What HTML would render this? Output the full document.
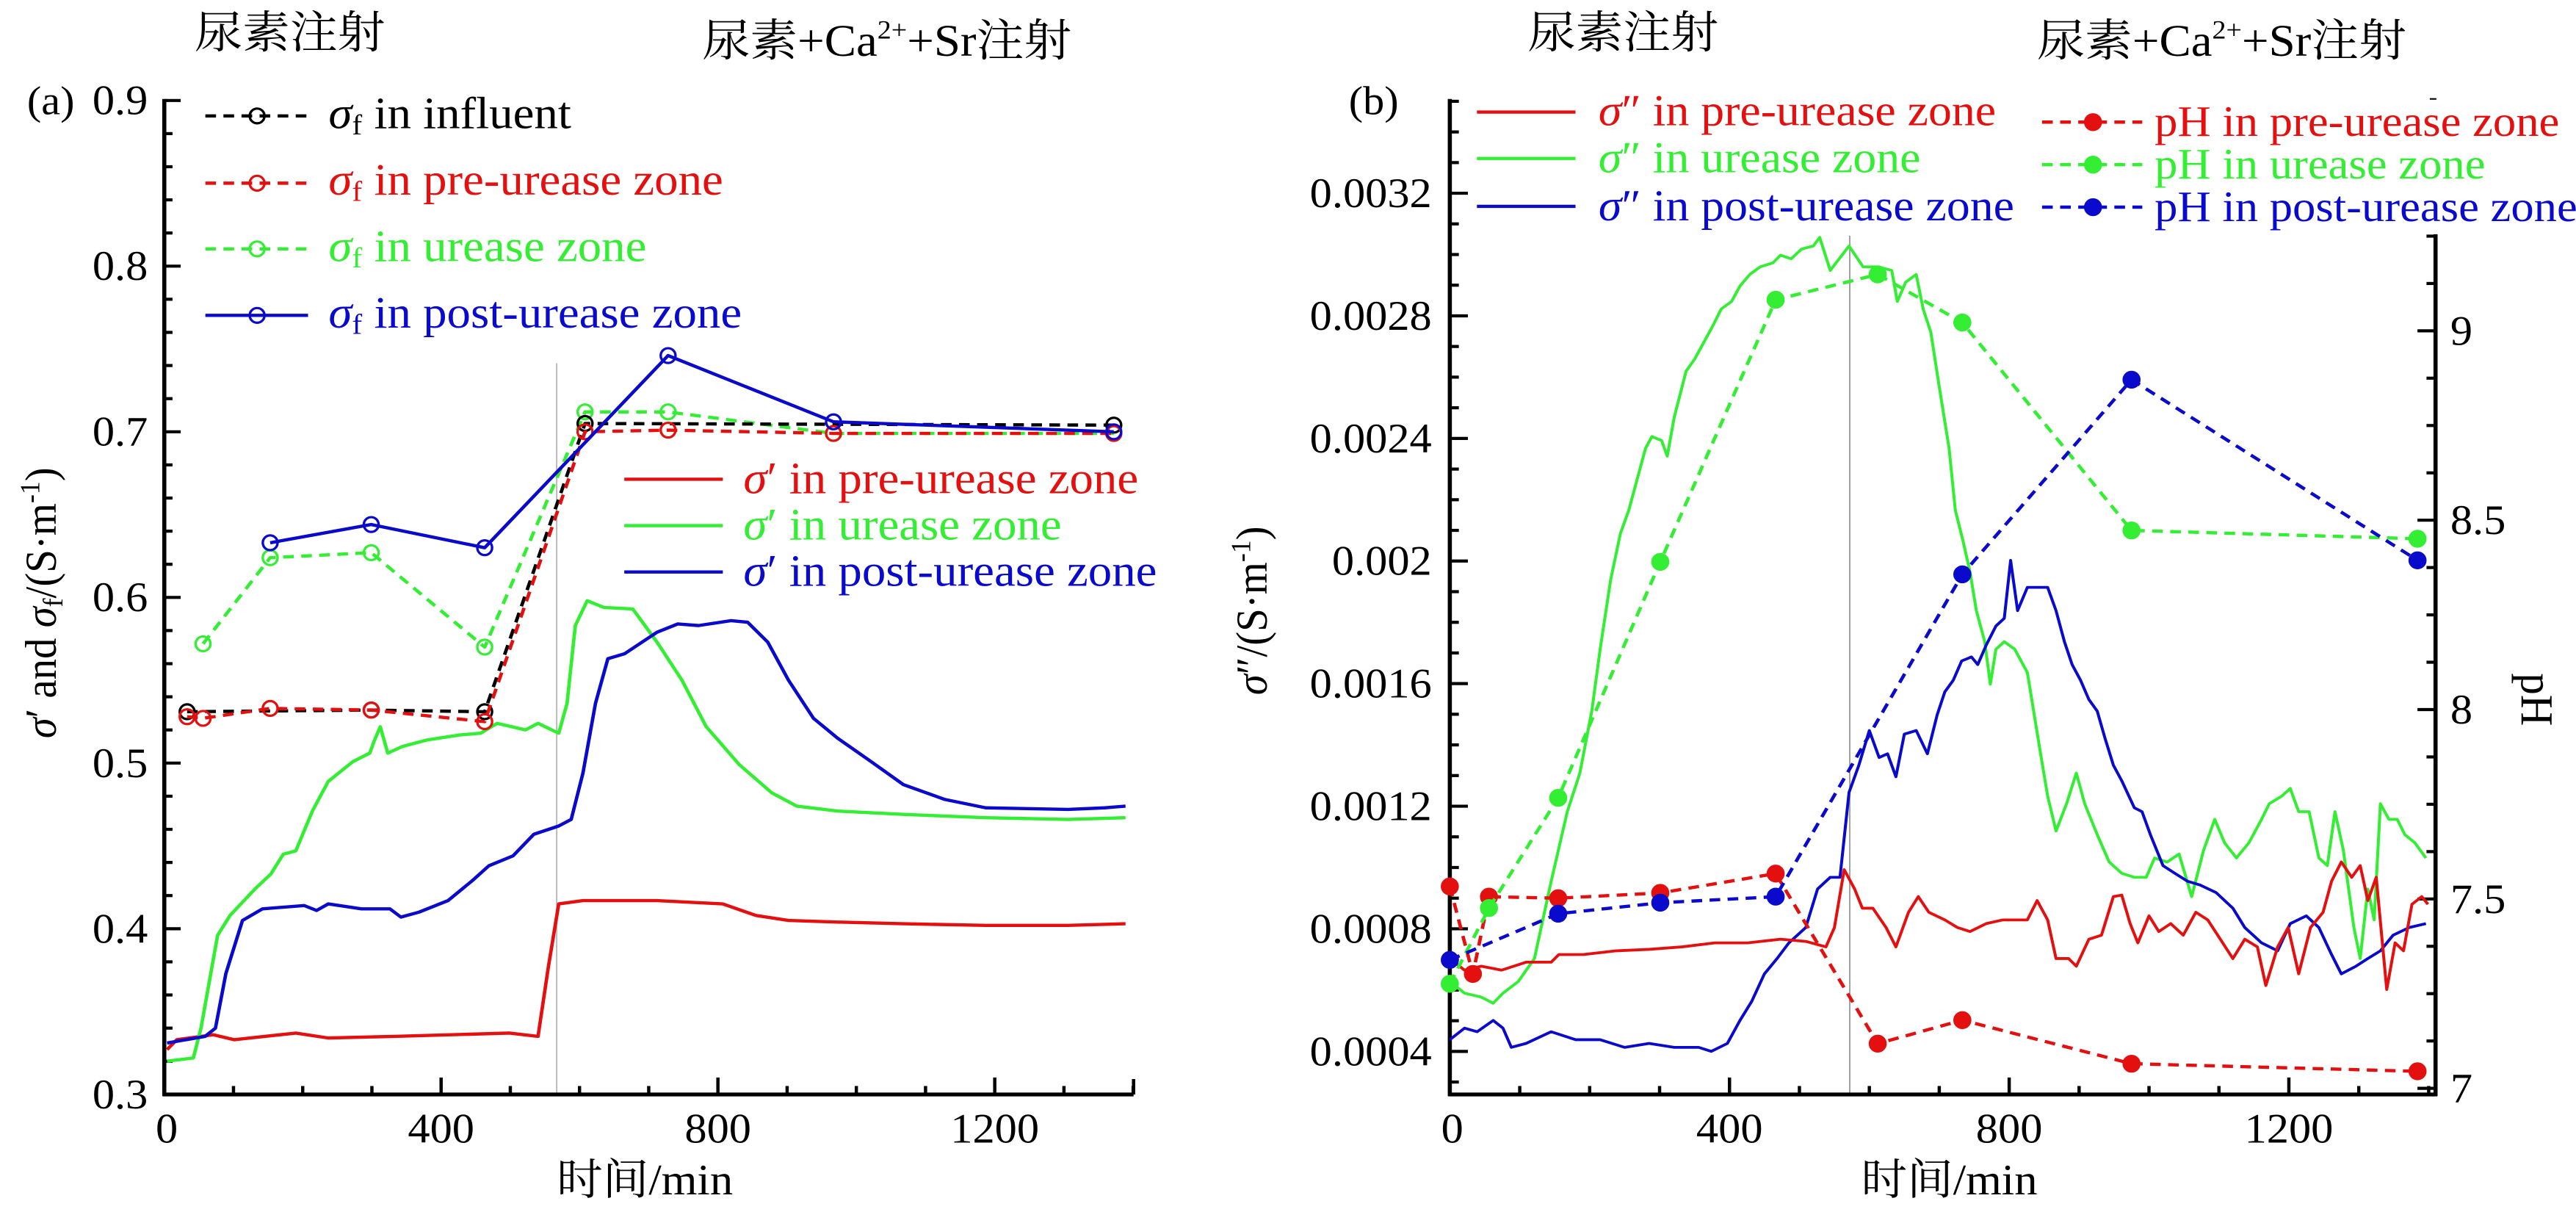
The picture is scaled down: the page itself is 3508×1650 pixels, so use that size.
<!DOCTYPE html>
<html><head><meta charset="utf-8"><style>
html,body{margin:0;padding:0;background:#fff;}
svg{display:block;font-family:"Liberation Serif","Noto Serif CJK SC","Noto Sans CJK SC",serif;}
</style></head><body>
<svg id="chart" width="3508" height="1650" viewBox="0 0 3136 1568" preserveAspectRatio="none" xmlns="http://www.w3.org/2000/svg">
<rect x="0" y="0" width="3136" height="1568" fill="#fff"/>
<g id="pa"></g>
<g id="pb"></g>
<text x="237" y="62" font-size="58">尿素注射</text>
<text x="855" y="72" font-size="58">尿素+Ca<tspan font-size="34" dy="-22">2+</tspan><tspan dy="22">+Sr注射</tspan></text>
<text x="33" y="148" font-size="52">(a)</text>
<text x="785" y="1545" font-size="56" text-anchor="middle">时间/min</text>
<text transform="translate(68,780) rotate(-90)" font-size="54" text-anchor="middle"><tspan font-style="italic">σ</tspan>′ and <tspan font-style="italic">σ</tspan><tspan font-size="34" dy="8">f</tspan><tspan dy="-8">/(S·m</tspan><tspan font-size="34" dy="-20">-1</tspan><tspan dy="20">)</tspan></text>
<g font-size="58">
<text x="400" y="166" fill="#000"><tspan font-style="italic">σ</tspan><tspan font-size="37" dy="8">f</tspan><tspan dy="-8"> in influent</tspan></text>
<text x="400" y="252" fill="#e41010"><tspan font-style="italic">σ</tspan><tspan font-size="37" dy="8">f</tspan><tspan dy="-8"> in pre-urease zone</tspan></text>
<text x="400" y="338" fill="#33ee33"><tspan font-style="italic">σ</tspan><tspan font-size="37" dy="8">f</tspan><tspan dy="-8"> in urease zone</tspan></text>
<text x="400" y="424" fill="#0a0acc"><tspan font-style="italic">σ</tspan><tspan font-size="37" dy="8">f</tspan><tspan dy="-8"> in post-urease zone</tspan></text>
</g>
<g font-size="58">
<text x="905" y="638" fill="#e41010"><tspan font-style="italic">σ</tspan>′ in pre-urease zone</text>
<text x="905" y="698" fill="#33ee33"><tspan font-style="italic">σ</tspan>′ in urease zone</text>
<text x="905" y="758" fill="#0a0acc"><tspan font-style="italic">σ</tspan>′ in post-urease zone</text>
</g>
<text x="1860" y="62" font-size="58">尿素注射</text>
<text x="2480" y="72" font-size="58">尿素+Ca<tspan font-size="34" dy="-22">2+</tspan><tspan dy="22">+Sr注射</tspan></text>
<text x="1642" y="148" font-size="52">(b)</text>
<text x="2373" y="1545" font-size="56" text-anchor="middle">时间/min</text>
<text transform="translate(1542,790) rotate(-90)" font-size="54" text-anchor="middle"><tspan font-style="italic">σ</tspan>″/(S·m<tspan font-size="34" dy="-20">-1</tspan><tspan dy="20">)</tspan></text>
<text transform="translate(3070,905) rotate(90)" font-size="56" text-anchor="middle">pH</text>
<g font-size="57">
<text x="1946" y="162" fill="#e41010"><tspan font-style="italic">σ</tspan>″ in pre-urease zone</text>
<text x="1946" y="223" fill="#33ee33"><tspan font-style="italic">σ</tspan>″ in urease zone</text>
<text x="1946" y="285" fill="#0a0acc"><tspan font-style="italic">σ</tspan>″ in post-urease zone</text>
</g>
<g font-size="56">
<text x="2623" y="176" fill="#e41010">pH in pre-urease zone</text>
<text x="2623" y="231" fill="#33ee33">pH in urease zone</text>
<text x="2623" y="286" fill="#0a0acc">pH in post-urease zone</text>
</g>
</svg>
<script>
// ---------- Panel (a) data ----------
const aXTicks = [0, 400, 800, 1200];
const aYTicks = [0.3, 0.4, 0.5, 0.6, 0.7, 0.8, 0.9];
const sfInfT = [33, 299, 463, 608, 1372];
const sfInfV = [0.531, 0.532, 0.531, 0.705, 0.704];
const sfPreT = [33, 56, 153, 299, 463, 608, 728, 967, 1372];
const sfPreV = [0.528, 0.527, 0.533, 0.532, 0.525, 0.700, 0.701, 0.699, 0.699];
const sfUreT = [56, 153, 299, 463, 608, 728, 967, 1372];
const sfUreV = [0.572, 0.624, 0.627, 0.570, 0.712, 0.712, 0.699, 0.699];
const sfPostT = [153, 299, 463, 728, 967, 1372];
const sfPostV = [0.633, 0.644, 0.630, 0.746, 0.706, 0.700];
const spPreT = [4,18,71,101,190,237,332,415,499,540,555,570,605,712,807,855,902,973,1068,1187,1306,1389];
const spPreV = [0.327,0.333,0.336,0.333,0.337,0.334,0.335,0.336,0.337,0.335,0.377,0.415,0.417,0.417,0.415,0.408,0.405,0.404,0.403,0.402,0.402,0.403];
const spUreT = [4,42,53,77,95,131,154,172,190,214,237,273,297,303,312,323,344,380,427,457,481,522,540,570,582,594,611,635,677,712,748,783,831,878,914,973,1068,1187,1306,1389];
const spUreV = [0.320,0.322,0.340,0.396,0.408,0.424,0.433,0.445,0.447,0.471,0.489,0.501,0.506,0.513,0.522,0.506,0.510,0.514,0.517,0.518,0.524,0.520,0.524,0.518,0.536,0.583,0.598,0.594,0.593,0.573,0.550,0.522,0.499,0.482,0.474,0.471,0.469,0.467,0.466,0.467];
const spPostT = [4,59,74,89,113,142,202,220,237,285,326,342,368,410,445,469,504,534,570,588,605,623,641,665,712,742,772,819,843,872,902,938,973,1021,1068,1128,1187,1306,1359,1389];
const spPostV = [0.331,0.335,0.340,0.373,0.405,0.412,0.414,0.411,0.415,0.412,0.412,0.407,0.410,0.417,0.429,0.438,0.444,0.457,0.462,0.466,0.494,0.536,0.563,0.566,0.579,0.584,0.583,0.586,0.585,0.573,0.550,0.527,0.515,0.501,0.487,0.478,0.473,0.472,0.473,0.474];

// ---------- Panel (b) data ----------
const bXTicks = [0, 400, 800, 1200];
const bYTicksLeft = ['0.0004','0.0008','0.0012','0.0016','0.002','0.0024','0.0028','0.0032'];
const bYTicksRight = ['7','7.5','8','8.5','9'];
const phT = [0, 56, 155, 301, 466, 612, 733, 975, 1384];
const phPreT = [0, 33, 56, 155, 301, 466, 612, 733, 975, 1384];
const phPre = [7.533, 7.302, 7.506, 7.502, 7.516, 7.567, 7.118, 7.180, 7.065, 7.045];
const phUre = [7.276, 7.476, 7.767, 8.390, 9.082, 9.149, 9.022, 8.473, 8.451];
const phPostT = [0, 155, 301, 466, 733, 975, 1384];
const phPost = [7.339, 7.461, 7.490, 7.506, 8.357, 8.871, 8.394];
// sigma'' values in units of 1e-4 S/m
const sddPreT = [0,21,45,74,109,145,156,191,238,285,332,379,426,473,509,538,550,564,579,590,605,624,638,656,670,685,708,726,744,767,791,826,840,855,867,885,896,914,932,949,961,973,984,1000,1014,1031,1049,1067,1084,1102,1120,1137,1155,1167,1184,1199,1214,1231,1249,1261,1275,1290,1302,1313,1325,1340,1352,1364,1376,1390,1399];
const sddPreV = [7.03,6.65,6.78,6.65,6.91,6.91,7.16,7.16,7.28,7.33,7.41,7.54,7.54,7.66,7.59,7.41,8.04,9.93,9.30,8.67,8.67,8.04,7.41,8.54,9.05,8.54,8.29,8.04,7.91,8.17,8.29,8.29,8.92,8.29,7.03,7.03,6.78,7.66,7.79,9.05,9.10,8.17,7.54,8.42,7.91,8.17,7.79,8.54,8.29,7.66,7.03,7.66,7.41,6.15,7.41,8.04,6.53,8.04,8.54,9.55,10.18,9.68,10.06,8.92,9.68,6.02,7.54,7.28,8.80,9.05,8.80];
const sddUreT = [0,21,45,62,76,98,121,145,168,186,203,215,230,244,256,268,280,289,303,311,321,338,350,365,377,388,403,415,429,444,462,473,488,503,520,529,544,571,591,612,632,640,652,667,677,688,700,714,723,734,744,753,765,773,781,793,800,808,826,844,855,867,882,896,908,926,943,961,979,996,1008,1026,1043,1061,1078,1094,1108,1125,1143,1161,1172,1190,1202,1214,1229,1243,1255,1266,1278,1293,1302,1313,1322,1331,1343,1355,1366,1380,1396];
const sddUreV = [6.28,5.90,5.77,5.57,5.90,6.28,7.03,9.55,11.82,13.08,15.10,17.12,19.39,20.90,21.66,22.67,23.68,24.06,23.93,23.42,24.69,26.20,26.58,27.21,27.71,28.22,28.47,28.97,29.35,29.60,29.73,29.98,29.86,30.18,30.28,30.56,29.48,30.28,29.60,29.60,29.48,28.47,29.10,29.35,28.22,27.46,25.69,23.68,21.66,20.65,19.64,18.38,17.37,15.98,17.12,17.37,17.25,17.12,16.36,13.84,12.33,11.19,12.08,13.08,12.08,11.07,10.18,9.81,9.68,9.68,10.31,10.18,10.44,9.05,10.56,11.57,10.81,10.31,10.81,11.57,12.08,12.33,12.58,11.82,11.82,10.31,10.06,11.82,10.56,8.04,7.03,9.30,8.29,12.08,11.57,11.57,11.07,10.81,10.31];
const sddPostT = [0,21,39,62,76,88,109,145,180,215,250,285,321,356,374,397,415,432,450,468,485,509,526,544,558,571,585,600,614,626,638,650,667,683,697,708,720,732,746,755,767,781,793,802,812,826,840,855,867,879,890,902,914,926,937,949,961,979,990,1002,1020,1037,1055,1073,1096,1120,1137,1161,1184,1202,1225,1243,1261,1275,1296,1313,1331,1349,1372,1396];
const sddPostV = [4.38,4.76,4.64,5.01,4.76,4.13,4.26,4.64,4.38,4.38,4.13,4.26,4.13,4.13,4.00,4.26,5.01,5.64,6.53,7.03,7.54,8.04,9.30,9.68,9.68,12.45,13.34,14.47,13.59,13.71,12.96,14.35,14.47,13.71,14.98,15.73,16.11,16.74,16.87,16.62,17.25,17.88,18.13,20.02,18.38,19.14,19.14,19.14,18.38,17.37,16.62,16.11,15.48,15.10,14.22,13.34,12.83,11.95,11.82,11.07,10.06,9.81,9.55,9.43,9.18,8.67,8.04,7.54,7.28,8.17,8.42,8.04,7.16,6.53,6.78,7.03,7.28,7.79,8.04,8.17];

const RED = '#e41010', GREEN = '#33ee33', BLUE = '#0a0acc';
const LW = 4.2;
const NS = 'http://www.w3.org/2000/svg';
const pa = document.getElementById('pa');
const pb = document.getElementById('pb');
function mk(tag, parent) { const e = document.createElementNS(NS, tag); parent.appendChild(e); return e; }
function line(parent, x1, y1, x2, y2, stroke, w, dash) {
  const e = mk('line', parent);
  e.setAttribute('x1', x1); e.setAttribute('y1', y1); e.setAttribute('x2', x2); e.setAttribute('y2', y2);
  e.setAttribute('stroke', stroke); e.setAttribute('stroke-width', w);
  if (dash) e.setAttribute('stroke-dasharray', dash);
  return e;
}
function poly(parent, xs, ys, fx, fy, stroke, w, dash) {
  const e = mk('polyline', parent);
  e.setAttribute('points', xs.map((t, i) => fx(t).toFixed(1) + ',' + fy(ys[i]).toFixed(1)).join(' '));
  e.setAttribute('fill', 'none'); e.setAttribute('stroke', stroke); e.setAttribute('stroke-width', w);
  e.setAttribute('stroke-linejoin', 'round');
  if (dash) e.setAttribute('stroke-dasharray', dash);
  return e;
}
function circ(parent, cx, cy, r, stroke, fill) {
  const e = mk('ellipse', parent);
  e.setAttribute('cx', cx); e.setAttribute('cy', cy); e.setAttribute('rx', r); e.setAttribute('ry', r * 1.06);
  e.setAttribute('stroke', stroke); e.setAttribute('stroke-width', 3); e.setAttribute('fill', fill);
  return e;
}
function txt(parent, x, y, s, anchor, size) {
  const e = mk('text', parent);
  e.setAttribute('x', x); e.setAttribute('y', y); e.setAttribute('text-anchor', anchor);
  e.setAttribute('font-size', size); e.textContent = s;
  return e;
}

// ---------- Panel (a) ----------
const xA = t => 200 + t * 0.8425;
const yA = v => 130 + (0.9 - v) * 2143;
let g = line(pa, xA(567), 470, xA(567), 1416, '#b0b0b0', 1.5);


g = line(pa, 200, 128, 200, 1418, '#000', 5);


g = line(pa, 198, 1416, 1380, 1416, '#000', 5);


g = line(pa, 1380, 1416, 1380, 1396, '#000', 4);
for (let v = 0.3; v <= 0.9001; v += 0.02) {
  const major = Math.abs(v * 10 - Math.round(v * 10)) < 1e-6;
  const tk = line(pa, 200, yA(v), 200 + (major ? 20 : 10), yA(v), '#000', 4);
  
  
}
for (let t = 0; t <= 1400; t += 100) {
  const major = t % 400 === 0;
  const tk = line(pa, xA(t), 1416, xA(t), 1416 - (major ? 22 : 11), '#000', 4);
  
  
}
aYTicks.forEach(v => {
  const e = txt(pa, 180, yA(v) + 18, v.toFixed(1), 'end', 54);
  
  
});
aXTicks.forEach(t => {
  const e = txt(pa, xA(t) + (t === 0 ? 3 : 0), 1478, String(t), 'middle', 54);
  
  
});
g = poly(pa, spPreT, spPreV, xA, yA, RED, LW);


g = poly(pa, spUreT, spUreV, xA, yA, GREEN, LW);


g = poly(pa, spPostT, spPostV, xA, yA, BLUE, LW);


const sfSeries = [
  [sfUreT, sfUreV, GREEN, '13,9', 'sigma-f-urease'],
  [sfInfT, sfInfV, '#000', '13,9', 'sigma-f-influent'],
  [sfPreT, sfPreV, RED, '13,9', 'sigma-f-pre-urease'],
  [sfPostT, sfPostV, BLUE, null, 'sigma-f-post-urease']
];
sfSeries.forEach(s => {
  const l = poly(pa, s[0], s[1], xA, yA, s[2], LW, s[3]);
  
  
  s[0].forEach((t, i) => {
    const c = circ(pa, xA(t), yA(s[1][i]), 9, s[2], 'none');
    
    
  });
});
const legA = [[150, '#000', '13,9'], [237, RED, '13,9'], [322, GREEN, '13,9'], [408, BLUE, null]];
legA.forEach(r => {
  const l = line(pa, 250, r[0], 375, r[0], r[1], LW, r[2]);
  
  
  const c = circ(pa, 313, r[0], 9, r[1], 'none');
  
  
});
[[620, RED], [680, GREEN], [740, BLUE]].forEach(r => {
  const l = line(pa, 760, r[0], 880, r[0], r[1], LW);
  
  
});

// ---------- Panel (b) ----------
const OFF = 1568;
const xB = t => OFF + 197 + t * 0.8512;
const yL = v => 250 + (32 - v) / 4 * 158.6;
const yR = p => 428 + (9 - p) * 490;
g = line(pb, xB(572), 305, xB(572), 1416, '#909090', 1.5);


g = line(pb, OFF + 197, 128, OFF + 197, 1418, '#000', 5);


g = line(pb, OFF + 1397, 303, OFF + 1397, 1418, '#000', 5);


g = line(pb, OFF + 195, 1416, OFF + 1399, 1416, '#000', 5);


g = line(pb, OFF + 1390, 128, OFF + 1398, 128, '#000', 2);
for (let k = 3; k <= 35; k++) {
  const y = yL(k);
  if (y < 128) continue;
  const major = k % 4 === 0;
  const tk = line(pb, OFF + 197, y, OFF + 197 + (major ? 22 : 11), y, '#000', 4);
  
  
}
for (let k = 0; k <= 18; k++) {
  const p = 7 + k * 0.125;
  const major = k % 4 === 0;
  const tk = line(pb, OFF + 1397, yR(p), OFF + 1397 - (major ? 22 : 11), yR(p), '#000', 4);
  
  
}
for (let t = 0; t <= 1400; t += 100) {
  const major = t % 400 === 0;
  const tk = line(pb, xB(t), 1416, xB(t), 1416 - (major ? 22 : 11), '#000', 4);
  
  
}
bYTicksLeft.forEach(s => {
  const e = txt(pb, OFF + 175, yL(parseFloat(s) * 1e4) + 18, s, 'end', 54);
  
  
});
bYTicksRight.forEach(s => {
  const e = txt(pb, OFF + 1415, yR(parseFloat(s)) + 18, s, 'start', 54);
  
  
});
bXTicks.forEach(t => {
  const e = txt(pb, xB(t) + (t === 0 ? 3 : 0), 1478, String(t), 'middle', 54);
  
  
});
g = poly(pb, sddUreT, sddUreV, xB, yL, GREEN, 3.6);


g = poly(pb, sddPostT, sddPostV, xB, yL, BLUE, 3.6);


g = poly(pb, sddPreT, sddPreV, xB, yL, RED, 3.6);


const phSeries = [
  [phPreT, phPre, RED, 'ph-pre-urease'],
  [phT, phUre, GREEN, 'ph-urease'],
  [phPostT, phPost, BLUE, 'ph-post-urease']
];
phSeries.forEach(s => {
  const l = poly(pb, s[0], s[1], xB, yR, s[2], LW, '13,9');
  
  
  s[0].forEach((t, i) => {
    const c = circ(pb, xB(t), yR(s[1][i]), 9.5, s[2], s[2]);
    
    
  });
});
[[145, RED], [205, GREEN], [267, BLUE]].forEach(r => {
  const l = line(pb, OFF + 230, r[0], OFF + 350, r[0], r[1], LW);
  
  
});
[[158, RED], [213, GREEN], [268, BLUE]].forEach(r => {
  const l = line(pb, OFF + 918, r[0], OFF + 1040, r[0], r[1], LW, '13,9');
  
  
  const c = circ(pb, OFF + 980, r[0], 9.5, r[1], r[1]);
  
  
});
</script>
</body></html>
